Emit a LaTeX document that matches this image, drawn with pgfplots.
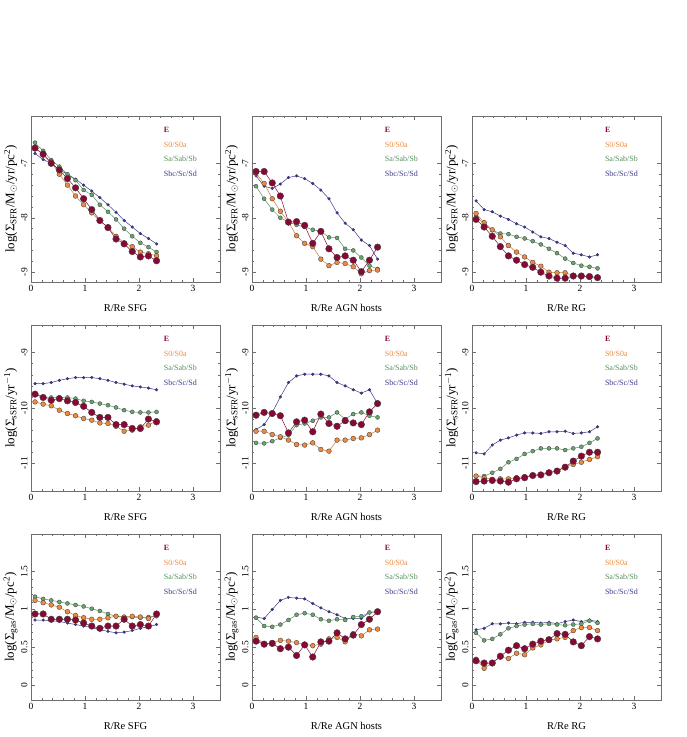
\documentclass[border=0pt]{standalone}
\usepackage{fontspec}
\setmainfont{Liberation Serif}
\usepackage{pgfplots}
\usepackage{pgfplotstable}
\pgfplotsset{compat=1.18}
\definecolor{cE}{RGB}{135,8,52}
\definecolor{cSz}{RGB}{235,140,65}
\definecolor{cSa}{RGB}{100,168,112}
\definecolor{cSbc}{RGB}{62,58,140}
\definecolor{edge}{RGB}{70,60,60}
\definecolor{boxc}{RGB}{110,110,110}

\pgfplotstableread{
x E S0 Sa Sbc
0.075 -6.72 -6.70 -6.62 -6.82
0.225 -6.83 -6.85 -6.77 -6.93
0.375 -7.00 -6.97 -6.94 -7.00
0.525 -7.12 -7.20 -7.06 -7.12
0.675 -7.28 -7.40 -7.20 -7.20
0.825 -7.45 -7.60 -7.31 -7.29
0.975 -7.65 -7.76 -7.49 -7.40
1.125 -7.85 -7.91 -7.58 -7.51
1.275 -8.05 -8.06 -7.76 -7.63
1.425 -8.18 -8.17 -7.89 -7.76
1.575 -8.39 -8.34 -8.03 -7.90
1.725 -8.48 -8.46 -8.20 -8.05
1.875 -8.62 -8.53 -8.34 -8.17
2.025 -8.72 -8.63 -8.46 -8.29
2.175 -8.70 -8.66 -8.54 -8.38
2.325 -8.79 -8.70 -8.63 -8.48
}\tA
\pgfplotstableread{
x E S0 Sa Sbc
0.075 -7.15 -7.18 -7.42 -7.23
0.225 -7.15 -7.37 -7.65 -7.42
0.375 -7.36 -7.65 -7.85 -7.46
0.525 -7.60 -7.88 -8.00 -7.38
0.675 -8.08 -8.08 -8.08 -7.26
0.825 -8.07 -8.33 -8.13 -7.23
0.975 -8.14 -8.47 -8.17 -7.28
1.125 -8.47 -8.53 -8.22 -7.37
1.275 -8.25 -8.76 -8.25 -7.49
1.425 -8.57 -8.88 -8.36 -7.65
1.575 -8.73 -8.82 -8.37 -7.91
1.725 -8.70 -8.84 -8.57 -8.10
1.875 -8.78 -8.90 -8.60 -8.22
2.025 -8.99 -9.03 -8.73 -8.41
2.175 -8.78 -8.97 -8.88 -8.51
2.325 -8.54 -8.96 -8.94 -8.76
}\tB
\pgfplotstableread{
x E S0 Sa Sbc
0.075 -8.03 -7.92 -7.97 -7.69
0.225 -8.17 -8.09 -8.12 -7.85
0.375 -8.34 -8.22 -8.23 -7.89
0.525 -8.53 -8.35 -8.29 -7.97
0.675 -8.70 -8.51 -8.30 -8.03
0.825 -8.78 -8.63 -8.35 -8.11
0.975 -8.86 -8.72 -8.38 -8.17
1.125 -8.91 -8.82 -8.43 -8.26
1.275 -9.00 -8.89 -8.49 -8.35
1.425 -9.07 -9.00 -8.57 -8.38
1.575 -9.11 -9.01 -8.65 -8.45
1.725 -9.11 -9.01 -8.75 -8.51
1.875 -9.07 -9.06 -8.83 -8.65
2.025 -9.07 -9.07 -8.88 -8.68
2.175 -9.08 -9.09 -8.90 -8.72
2.325 -9.10 -9.09 -8.93 -8.68
}\tC
\pgfplotstableread{
x E S0 Sa Sbc
0.075 -9.75 -9.89 -9.75 -9.56
0.225 -9.81 -9.93 -9.80 -9.56
0.375 -9.86 -9.96 -9.81 -9.54
0.525 -9.83 -10.04 -9.81 -9.50
0.675 -9.87 -10.10 -9.81 -9.47
0.825 -9.90 -10.14 -9.83 -9.45
0.975 -9.97 -10.19 -9.87 -9.45
1.125 -10.08 -10.22 -9.89 -9.45
1.275 -10.17 -10.27 -9.92 -9.47
1.425 -10.17 -10.28 -9.95 -9.50
1.575 -10.30 -10.33 -9.99 -9.54
1.725 -10.30 -10.42 -10.04 -9.57
1.875 -10.37 -10.40 -10.07 -9.60
2.025 -10.37 -10.34 -10.08 -9.62
2.175 -10.20 -10.31 -10.08 -9.64
2.325 -10.25 -10.23 -10.07 -9.67
}\tD
\pgfplotstableread{
x E S0 Sa Sbc
0.075 -10.13 -10.42 -10.63 -10.39
0.225 -10.08 -10.42 -10.64 -10.30
0.375 -10.10 -10.48 -10.60 -10.08
0.525 -10.14 -10.52 -10.54 -9.80
0.675 -10.45 -10.58 -10.49 -9.54
0.825 -10.25 -10.66 -10.31 -9.42
0.975 -10.22 -10.67 -10.28 -9.39
1.125 -10.43 -10.63 -10.23 -9.39
1.275 -10.11 -10.75 -10.17 -9.39
1.425 -10.28 -10.78 -10.17 -9.42
1.575 -10.33 -10.58 -10.08 -9.54
1.725 -10.23 -10.58 -10.20 -9.60
1.875 -10.27 -10.55 -10.11 -9.67
2.025 -10.30 -10.54 -10.08 -9.73
2.175 -10.07 -10.48 -10.14 -9.67
2.325 -9.92 -10.40 -10.17 -9.92
}\tE
\pgfplotstableread{
x E S0 Sa Sbc
0.075 -11.33 -11.23 -11.23 -10.81
0.225 -11.32 -11.26 -11.23 -10.83
0.375 -11.31 -11.29 -11.17 -10.67
0.525 -11.32 -11.28 -11.10 -10.58
0.675 -11.34 -11.28 -10.98 -10.54
0.825 -11.28 -11.26 -10.92 -10.49
0.975 -11.26 -11.24 -10.83 -10.45
1.125 -11.22 -11.22 -10.78 -10.45
1.275 -11.21 -11.20 -10.73 -10.46
1.425 -11.17 -11.17 -10.73 -10.43
1.575 -11.14 -11.13 -10.73 -10.43
1.725 -11.07 -11.06 -10.76 -10.42
1.875 -10.96 -11.02 -10.73 -10.46
2.025 -10.87 -10.98 -10.70 -10.45
2.175 -10.80 -10.93 -10.63 -10.43
2.325 -10.80 -10.88 -10.55 -10.34
}\tF
\pgfplotstableread{
x E S0 Sa Sbc
0.075 0.94 1.12 1.17 0.86
0.225 0.94 1.09 1.14 0.86
0.375 0.87 1.06 1.12 0.85
0.525 0.87 1.03 1.10 0.84
0.675 0.87 0.97 1.08 0.82
0.825 0.86 0.92 1.06 0.80
0.975 0.82 0.89 1.04 0.78
1.125 0.78 0.87 1.01 0.76
1.275 0.75 0.87 0.98 0.73
1.425 0.78 0.89 0.94 0.71
1.575 0.78 0.91 0.91 0.69
1.725 0.87 0.90 0.90 0.70
1.875 0.78 0.91 0.90 0.72
2.025 0.80 0.90 0.89 0.75
2.175 0.78 0.88 0.90 0.77
2.325 0.94 0.93 0.91 0.80
}\tG
\pgfplotstableread{
x E S0 Sa Sbc
0.075 0.58 0.63 0.89 0.90
0.225 0.54 0.54 0.78 0.88
0.375 0.55 0.56 0.77 1.00
0.525 0.48 0.59 0.80 1.12
0.675 0.50 0.58 0.86 1.16
0.825 0.39 0.56 0.93 1.15
0.975 0.53 0.54 0.95 1.14
1.125 0.37 0.52 0.93 1.08
1.275 0.57 0.54 0.87 1.02
1.425 0.58 0.61 0.85 0.97
1.575 0.69 0.63 0.87 0.93
1.725 0.61 0.57 0.86 0.88
1.875 0.66 0.68 0.90 0.88
2.025 0.80 0.65 0.91 0.88
2.175 0.87 0.73 0.96 0.96
2.325 0.97 0.74 0.97 0.97
}\tH
\pgfplotstableread{
x E S0 Sa Sbc
0.075 0.32 0.34 0.69 0.73
0.225 0.29 0.22 0.59 0.75
0.375 0.29 0.29 0.61 0.81
0.525 0.38 0.37 0.67 0.81
0.675 0.46 0.35 0.75 0.82
0.825 0.52 0.42 0.78 0.81
0.975 0.48 0.40 0.80 0.83
1.125 0.54 0.49 0.81 0.83
1.275 0.58 0.53 0.80 0.82
1.425 0.60 0.59 0.81 0.83
1.575 0.68 0.61 0.80 0.81
1.725 0.67 0.63 0.79 0.84
1.875 0.57 0.72 0.80 0.86
2.025 0.52 0.76 0.81 0.84
2.175 0.64 0.76 0.85 0.86
2.325 0.61 0.72 0.82 0.84
}\tI

\pgfplotsset{
  panel/.style={
    scale only axis, width=189pt, height=166pt,
    anchor=south west, clip=false,
    xmin=0, xmax=3.5,
    xtick={0,1,2,3}, xticklabels={0,1,2,3},
    minor x tick num=4, minor y tick num=4,
    tick align=inside,
    major tick length=4pt, minor tick length=2pt,
    axis line style={boxc, line width=0.5pt},
    tick style={boxc, line width=0.5pt},
    tick label style={font=\fontsize{9.5}{11}\selectfont, text=black},
    yticklabel style={rotate=90, anchor=south},
    xlabel style={font=\fontsize{10.5}{12}\selectfont, at={(axis description cs:0.5,0)}, anchor=center, yshift=-26pt},
    ylabel style={font=\fontsize{13}{15}\selectfont, at={(axis description cs:-0.108,0.5)}, anchor=center},
  },
  rowA/.style={ymin=-9.18, ymax=-6.13, ytick={-9,-8,-7}, yticklabels={-9,-8,-7},
    ylabel={log(Σ\textsubscript{SFR}/M\textsubscript{$\odot$}/yr/pc\textsuperscript{2})}},
  rowB/.style={ymin=-11.5, ymax=-8.5, ytick={-11,-10,-9}, yticklabels={-11,-10,-9},
    ylabel={log(Σ\textsubscript{sSFR}/yr\textsuperscript{$-$1})}},
  rowC/.style={ymin=-0.2, ymax=2.0, ytick={0,0.5,1,1.5}, yticklabels={0,0.5,1,1.5},
    ylabel={log(Σ\textsubscript{gas}/M\textsubscript{$\odot$}/pc\textsuperscript{2})}},
  sE/.style={color=cE, line width=0.5pt, mark=*, mark size=3.3pt, mark options={fill=cE, draw=edge, line width=0.4pt}},
  sZ/.style={color=cSz!85!black, line width=0.5pt, mark=*, mark size=2.4pt, mark options={fill=cSz, draw=edge, line width=0.35pt}},
  sA/.style={color=cSa!85!black, line width=0.5pt, mark=*, mark size=2.0pt, mark options={fill=cSa, draw=edge, line width=0.35pt}},
  sB/.style={color=cSbc, line width=0.5pt, mark=*, mark size=1.4pt, mark options={fill=cSbc, draw=cSbc!70!black, line width=0.3pt}},
}
\newcommand{\legnodes}{%
  \node[anchor=west, text=cE, font=\fontsize{8}{9}\selectfont\bfseries] at (axis description cs:0.685,0.916) {E};
  \node[anchor=west, text=cSz, font=\fontsize{8}{9}\selectfont] at (axis description cs:0.685,0.828) {S0/S0a};
  \node[anchor=west, text=cSa!85!black, font=\fontsize{8}{9}\selectfont] at (axis description cs:0.685,0.741) {Sa/Sab/Sb};
  \node[anchor=west, text=cSbc, font=\fontsize{8}{9}\selectfont] at (axis description cs:0.685,0.655) {Sbc/Sc/Sd};
}
\newcommand{\fourplots}[1]{%
  \addplot[sB] table[x=x,y=Sbc]{#1};
  \addplot[sA] table[x=x,y=Sa]{#1};
  \addplot[sZ] table[x=x,y=S0]{#1};
  \addplot[sE] table[x=x,y=E]{#1};
  \legnodes
}

\begin{document}
\begin{tikzpicture}[x=1pt,y=1pt]
\useasboundingbox (0,0) rectangle (687,737);
% row 1
\begin{axis}[panel, rowA, at={(31pt,455pt)}, xlabel={R/Re SFG}]
\fourplots{\tA}
\end{axis}
\begin{axis}[panel, rowA, at={(252pt,455pt)}, xlabel={R/Re AGN hosts}]
\fourplots{\tB}
\end{axis}
\begin{axis}[panel, rowA, at={(472pt,455pt)}, xlabel={R/Re RG}]
\fourplots{\tC}
\end{axis}
% row 2
\begin{axis}[panel, rowB, at={(31pt,246pt)}, xlabel={R/Re SFG}]
\fourplots{\tD}
\end{axis}
\begin{axis}[panel, rowB, at={(252pt,246pt)}, xlabel={R/Re AGN hosts}]
\fourplots{\tE}
\end{axis}
\begin{axis}[panel, rowB, at={(472pt,246pt)}, xlabel={R/Re RG}]
\fourplots{\tF}
\end{axis}
% row 3
\begin{axis}[panel, rowC, at={(31pt,37pt)}, xlabel={R/Re SFG}]
\fourplots{\tG}
\end{axis}
\begin{axis}[panel, rowC, at={(252pt,37pt)}, xlabel={R/Re AGN hosts}]
\fourplots{\tH}
\end{axis}
\begin{axis}[panel, rowC, at={(472pt,37pt)}, xlabel={R/Re RG}]
\fourplots{\tI}
\end{axis}
\end{tikzpicture}
\end{document}
